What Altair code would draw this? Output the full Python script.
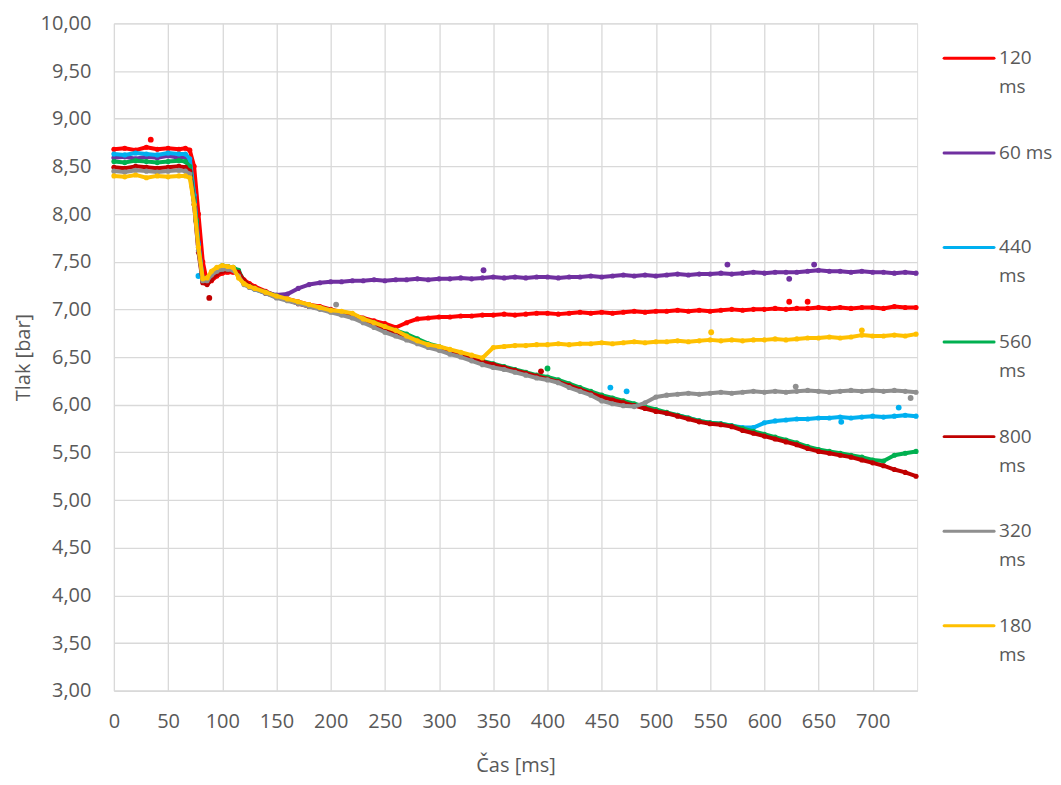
import altair as alt
import pandas as pd

# sample times [ms]
TIME = [0, 10, 20, 30, 40, 50, 60,
        66, 70, 74, 78, 82, 86, 90, 95, 100, 105, 110, 115, 120, 125, 130,
        140, 150, 160, 170, 180, 190, 200, 210, 220, 230,
        240, 250, 260, 270, 280, 290, 300, 310, 320, 330,
        340, 350, 360, 370, 380, 390, 400, 410, 420, 430,
        440, 450, 460, 470, 480, 490, 500, 510, 520, 530,
        540, 550, 560, 570, 580, 590, 600, 610, 620, 630,
        640, 650, 660, 670, 680, 690, 700, 710, 720, 730,
        740]

S120 = [8.68, 8.69, 8.67, 8.70, 8.68, 8.69, 8.68,
        8.69, 8.67, 8.50, 8.00, 7.50, 7.28, 7.30, 7.35, 7.38, 7.39, 7.39, 7.38, 7.31, 7.27, 7.24,
        7.19, 7.14, 7.11, 7.08, 7.05, 7.03, 7.00, 6.97, 6.94, 6.91,
        6.88, 6.85, 6.81, 6.86, 6.90, 6.91, 6.92, 6.92, 6.93, 6.93,
        6.94, 6.94, 6.95, 6.94, 6.95, 6.96, 6.96, 6.95, 6.96, 6.97,
        6.96, 6.97, 6.96, 6.97, 6.98, 6.97, 6.98, 6.98, 6.99, 6.98,
        6.99, 6.98, 6.99, 7.00, 6.99, 7.00, 7.00, 7.01, 7.00, 7.01,
        7.01, 7.02, 7.01, 7.02, 7.01, 7.02, 7.02, 7.01, 7.03, 7.02,
        7.02]

S60 = [8.59, 8.60, 8.58, 8.60, 8.59, 8.61, 8.59,
       8.60, 8.56, 8.20, 7.70, 7.32, 7.30, 7.36, 7.41, 7.43, 7.43, 7.42, 7.40, 7.29, 7.25, 7.22,
       7.18, 7.15, 7.16, 7.22, 7.26, 7.28, 7.29, 7.29, 7.30, 7.30,
       7.31, 7.30, 7.31, 7.31, 7.32, 7.31, 7.32, 7.32, 7.33, 7.32,
       7.33, 7.34, 7.33, 7.34, 7.33, 7.34, 7.34, 7.33, 7.34, 7.34,
       7.35, 7.34, 7.35, 7.36, 7.35, 7.36, 7.35, 7.36, 7.37, 7.36,
       7.37, 7.37, 7.38, 7.37, 7.38, 7.39, 7.38, 7.39, 7.39, 7.39,
       7.40, 7.41, 7.40, 7.40, 7.39, 7.40, 7.39, 7.39, 7.38, 7.39,
       7.38]

S440 = [8.63, 8.62, 8.64, 8.63, 8.62, 8.64, 8.63,
        8.63, 8.58, 8.20, 7.68, 7.30, 7.29, 7.36, 7.42, 7.45, 7.45, 7.43, 7.40, 7.28, 7.24, 7.21,
        7.17, 7.13, 7.10, 7.07, 7.04, 7.01, 6.99, 6.96, 6.93, 6.89,
        6.85, 6.80, 6.76, 6.72, 6.68, 6.63, 6.60, 6.56, 6.53, 6.49,
        6.45, 6.42, 6.39, 6.36, 6.33, 6.30, 6.28, 6.25, 6.21, 6.17,
        6.13, 6.09, 6.06, 6.03, 6.00, 5.97, 5.94, 5.91, 5.89, 5.86,
        5.83, 5.81, 5.80, 5.78, 5.76, 5.76, 5.81, 5.83, 5.84, 5.85,
        5.85, 5.86, 5.86, 5.87, 5.86, 5.87, 5.88, 5.87, 5.88, 5.89,
        5.88]

S560 = [8.55, 8.54, 8.56, 8.55, 8.54, 8.55, 8.56,
        8.55, 8.50, 8.15, 7.65, 7.30, 7.31, 7.38, 7.43, 7.46, 7.45, 7.44, 7.41, 7.29, 7.25, 7.22,
        7.18, 7.14, 7.10, 7.07, 7.04, 7.02, 6.99, 6.97, 6.94, 6.90,
        6.86, 6.82, 6.78, 6.74, 6.69, 6.64, 6.61, 6.57, 6.54, 6.50,
        6.46, 6.43, 6.40, 6.37, 6.34, 6.31, 6.29, 6.26, 6.22, 6.18,
        6.14, 6.10, 6.07, 6.04, 6.01, 5.98, 5.95, 5.92, 5.89, 5.86,
        5.83, 5.81, 5.80, 5.78, 5.75, 5.72, 5.69, 5.66, 5.63, 5.60,
        5.56, 5.53, 5.51, 5.49, 5.47, 5.45, 5.42, 5.41, 5.47, 5.49,
        5.51]

S800 = [8.49, 8.48, 8.50, 8.49, 8.48, 8.49, 8.50,
        8.49, 8.45, 8.10, 7.60, 7.28, 7.26, 7.31, 7.37, 7.40, 7.41, 7.41, 7.39, 7.30, 7.25, 7.22,
        7.17, 7.13, 7.10, 7.06, 7.03, 7.01, 6.98, 6.95, 6.92, 6.88,
        6.84, 6.80, 6.76, 6.71, 6.67, 6.62, 6.59, 6.55, 6.52, 6.48,
        6.45, 6.42, 6.39, 6.36, 6.33, 6.30, 6.27, 6.24, 6.20, 6.16,
        6.12, 6.08, 6.05, 6.02, 5.99, 5.96, 5.93, 5.91, 5.88, 5.85,
        5.82, 5.80, 5.79, 5.77, 5.73, 5.70, 5.67, 5.64, 5.61, 5.58,
        5.54, 5.51, 5.49, 5.47, 5.45, 5.42, 5.39, 5.36, 5.32, 5.29,
        5.25]

S320 = [8.45, 8.44, 8.46, 8.45, 8.44, 8.45, 8.46,
        8.45, 8.42, 8.10, 7.62, 7.30, 7.30, 7.36, 7.40, 7.42, 7.42, 7.41, 7.35, 7.26, 7.23, 7.21,
        7.17, 7.12, 7.09, 7.06, 7.03, 7.00, 6.97, 6.94, 6.91, 6.86,
        6.81, 6.76, 6.72, 6.68, 6.64, 6.60, 6.57, 6.53, 6.50, 6.46,
        6.42, 6.39, 6.37, 6.34, 6.31, 6.28, 6.26, 6.23, 6.18, 6.14,
        6.10, 6.04, 6.01, 5.99, 5.98, 6.02, 6.08, 6.10, 6.11, 6.12,
        6.11, 6.12, 6.13, 6.12, 6.13, 6.14, 6.13, 6.14, 6.13, 6.14,
        6.15, 6.14, 6.13, 6.14, 6.15, 6.14, 6.15, 6.14, 6.15, 6.14,
        6.13]

S180 = [8.40, 8.39, 8.41, 8.38, 8.40, 8.39, 8.40,
        8.40, 8.38, 8.10, 7.65, 7.32, 7.33, 7.40, 7.44, 7.46, 7.45, 7.44, 7.33, 7.27, 7.24, 7.22,
        7.18, 7.14, 7.11, 7.08, 7.05, 7.02, 6.99, 6.98, 6.96, 6.90,
        6.86, 6.82, 6.78, 6.72, 6.67, 6.63, 6.61, 6.58, 6.55, 6.52,
        6.49, 6.60, 6.61, 6.62, 6.62, 6.63, 6.63, 6.64, 6.63, 6.64,
        6.64, 6.65, 6.64, 6.65, 6.66, 6.65, 6.66, 6.66, 6.67, 6.66,
        6.67, 6.68, 6.67, 6.68, 6.67, 6.68, 6.68, 6.69, 6.68, 6.69,
        6.70, 6.70, 6.71, 6.70, 6.71, 6.73, 6.72, 6.72, 6.73, 6.72,
        6.74]

# isolated stray readings visible off the lines
OUT_SERIES = ["120 ms", "60 ms", "60 ms", "60 ms", "60 ms", "120 ms", "120 ms",
              "180 ms", "180 ms", "320 ms", "320 ms", "320 ms", "440 ms", "440 ms",
              "440 ms", "440 ms", "560 ms", "800 ms", "800 ms", "560 ms", "440 ms"]
OUT_T = [34, 341, 566, 623, 646, 623, 640,
         551, 690, 629, 735, 205, 724, 671,
         458, 473, 400, 394, 88, 76, 78]
OUT_P = [8.78, 7.41, 7.47, 7.32, 7.47, 7.08, 7.08,
         6.76, 6.78, 6.19, 6.07, 7.05, 5.97, 5.82,
         6.18, 6.14, 6.38, 6.35, 7.12, 7.93, 7.35]

SERIES = ["120 ms", "60 ms", "440 ms", "560 ms", "800 ms", "320 ms", "180 ms"]
VALUES = [S120, S60, S440, S560, S800, S320, S180]
COLORS = ["#FF0000", "#7030A0", "#00B0F0", "#00B050", "#C00000", "#8F8F8F", "#FFC000"]

for v in VALUES:
    assert len(v) == len(TIME), len(v)

rows = []
for name, vals in zip(SERIES, VALUES):
    for t, p in zip(TIME, vals):
        rows.append({"t": t, "p": p, "series": name})
df = pd.DataFrame(rows)
df_out = pd.DataFrame({"t": OUT_T, "p": OUT_P, "series": OUT_SERIES})

leg_rows = []
for name in SERIES:
    if name == "60 ms":
        first, second = name, ""
    else:
        first, second = name.split(" ")
    leg_rows.append({"series": name, "first": first, "second": second})
df_leg = pd.DataFrame(leg_rows)

FONT = "Open Sans"
TXT = "#595959"

x_enc = alt.X("t:Q", scale=alt.Scale(domain=[0, 741], nice=False, zero=False),
              axis=alt.Axis(values=list(range(0, 701, 50)), title="Čas [ms]",
                            grid=True, gridColor="#D9D9D9", gridWidth=1.3,
                            domainColor="#D9D9D9", domainWidth=1.3, ticks=False,
                            labelFlush=False,
                            labelPadding=21, labelFont=FONT, labelFontSize=20,
                            labelColor=TXT, titleFont=FONT, titleFontSize=20,
                            titleFontWeight="normal", titleColor=TXT, titlePadding=24))
y_enc = alt.Y("p:Q", scale=alt.Scale(domain=[3, 10], nice=False, zero=False),
              axis=alt.Axis(values=[3 + 0.5 * i for i in range(15)],
                            labelExpr="replace(format(datum.value, '.2f'), '.', ',')",
                            title="Tlak [bar]", grid=True, gridColor="#D9D9D9",
                            gridWidth=1.3, domain=False, ticks=False, labelPadding=23,
                            labelFlush=False,
                            labelFont=FONT, labelFontSize=20, labelColor=TXT,
                            titleFont=FONT, titleFontSize=20, titleFontWeight="normal",
                            titleColor=TXT, titlePadding=7))

color_enc = alt.Color("series:N", scale=alt.Scale(domain=SERIES, range=COLORS), legend=None)

layers = []
for name in SERIES:
    base = alt.Chart(df).transform_filter(alt.datum.series == name)
    layers.append(base.mark_line(strokeWidth=4, strokeJoin="round", strokeCap="round")
                  .encode(x=x_enc, y=y_enc, color=color_enc))
    layers.append(base.mark_circle(size=26, opacity=1)
                  .encode(x=x_enc, y=y_enc, color=color_enc))
    layers.append(alt.Chart(df_out).transform_filter(alt.datum.series == name)
                  .mark_circle(size=34, opacity=1)
                  .encode(x=x_enc, y=y_enc, color=color_enc))

main = alt.layer(*layers)

# legend drawn to the right of the plot
leg_y = alt.Y("series:N", scale=alt.Scale(type="point", domain=SERIES, range=[35, 603], padding=0),
              axis=None)
leg_rule = alt.Chart(df_leg).mark_rule(strokeWidth=3, strokeCap="round").encode(
    x=alt.value(831), x2=alt.value(881), y=leg_y, color=color_enc)
leg_t1 = alt.Chart(df_leg).mark_text(align="left", baseline="middle", font=FONT,
                                     fontSize=19, color=TXT).encode(
    x=alt.value(886), y=leg_y, text="first:N")
leg_t2 = alt.Chart(df_leg).mark_text(align="left", baseline="middle", font=FONT,
                                     fontSize=19, color=TXT, dy=29).encode(
    x=alt.value(886), y=leg_y, text="second:N")
legend = alt.layer(leg_rule, leg_t1, leg_t2)

chart = (alt.layer(main, legend)
         .resolve_scale(y="independent")
         .properties(width=804, height=668, padding={"left": 5, "top": 5, "right": 0, "bottom": 5})
         .configure_view(stroke=None)
         .configure(background="white"))

chart.save("out.html", embed_options={"renderer": "svg", "actions": False})
